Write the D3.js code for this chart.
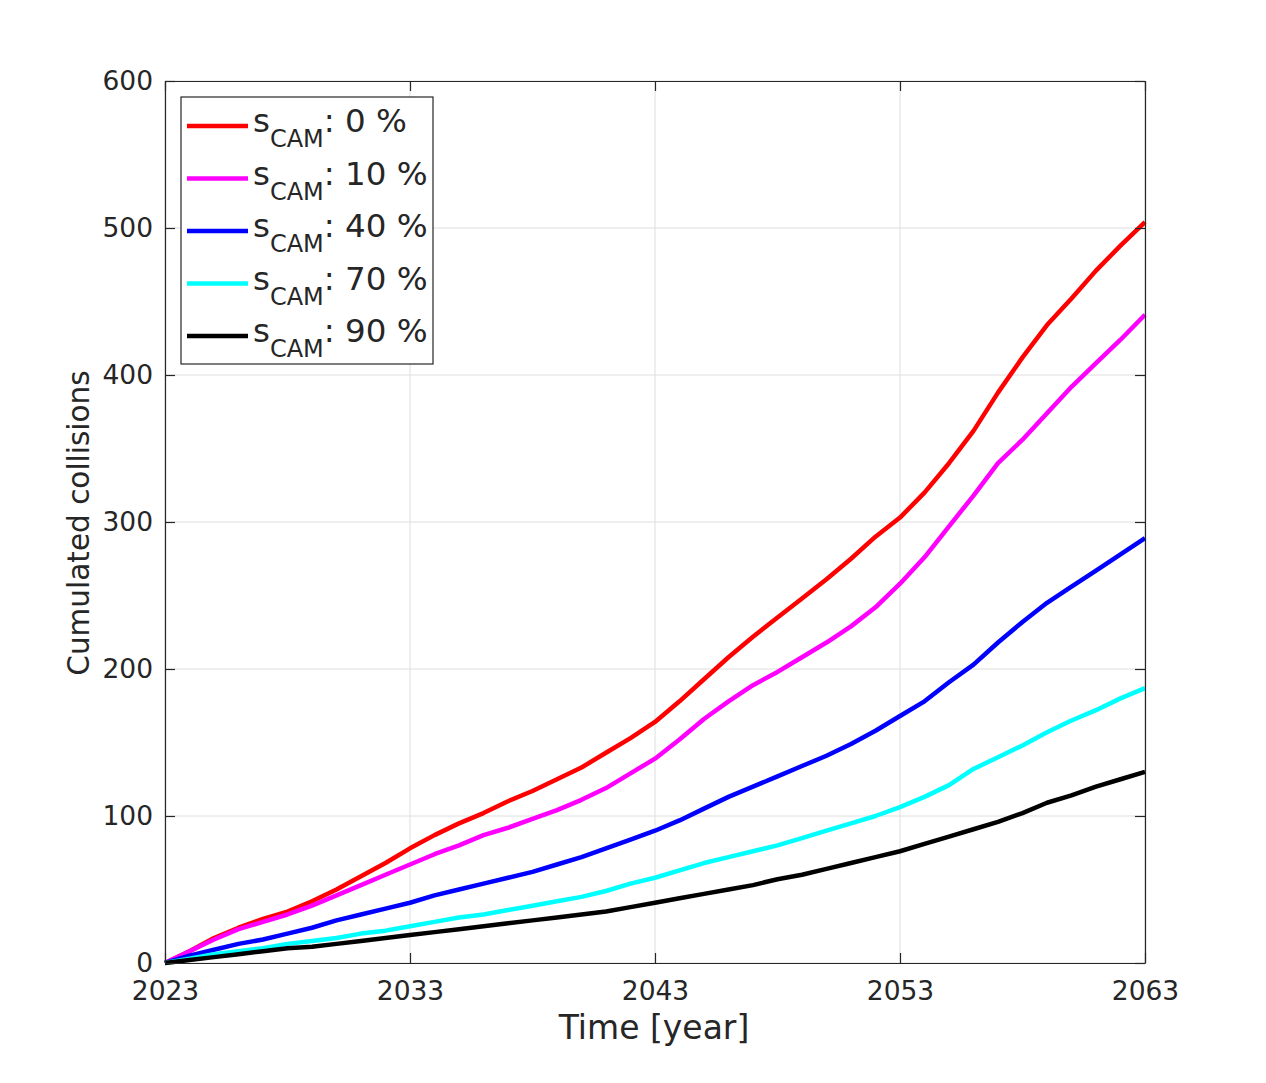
<!DOCTYPE html>
<html>
<head>
<meta charset="utf-8">
<script src="https://cdn.jsdelivr.net/npm/d3@7"></script>
<style>
  body { margin: 0; background: #fff; }
  text { font-family: "DejaVu Sans", sans-serif; fill: #262626; }
</style>
</head>
<body>
<svg id="chart" width="1266" height="1083"></svg>
<script>
// years along the x axis
var years = d3.range(2023, 2064);

// cumulated collisions per scenario (one value per year)
var cam0 = [0, 8, 17, 24, 30, 35, 42, 50, 59, 68, 78, 87, 95, 102, 110, 117, 125, 133, 143, 153,
  164, 178, 193, 208, 222, 235, 248, 261, 275, 290, 303, 320, 340, 362, 388, 412, 434, 452, 471, 488, 504];
var cam10 = [0, 8, 16, 23, 28, 33, 39, 46, 53, 60, 67, 74, 80, 87, 92, 98, 104, 111, 119, 129,
  139, 152, 166, 178, 189, 198, 208, 218, 229, 242, 258, 276, 297, 318, 340, 356, 374, 392, 408, 424, 441];
var cam40 = [0, 5, 9, 13, 16, 20, 24, 29, 33, 37, 41, 46, 50, 54, 58, 62, 67, 72, 78, 84,
  90, 97, 105, 113, 120, 127, 134, 141, 149, 158, 168, 178, 191, 203, 218, 232, 245, 256, 267, 278, 289];
var cam70 = [0, 3, 6, 8, 10, 13, 15, 17, 20, 22, 25, 28, 31, 33, 36, 39, 42, 45, 49, 54,
  58, 63, 68, 72, 76, 80, 85, 90, 95, 100, 106, 113, 121, 132, 140, 148, 157, 165, 172, 180, 187];
var cam90 = [0, 2, 4, 6, 8, 10, 11, 13, 15, 17, 19, 21, 23, 25, 27, 29, 31, 33, 35, 38,
  41, 44, 47, 50, 53, 57, 60, 64, 68, 72, 76, 81, 86, 91, 96, 102, 109, 114, 120, 125, 130];

var seriesNames = ["0 %", "10 %", "40 %", "70 %", "90 %"];
var seriesColors = ["#ff0000", "#ff00ff", "#0000ff", "#00ffff", "#000000"];
var seriesValues = [cam0, cam10, cam40, cam70, cam90];

var xTicks = [2023, 2033, 2043, 2053, 2063];
var yTicks = [0, 100, 200, 300, 400, 500, 600];

var svg = d3.select("#chart"),
    margin = {top: 81, right: 121, bottom: 120, left: 165},
    width = 1266 - margin.left - margin.right,
    height = 1083 - margin.top - margin.bottom,
    g = svg.append("g").attr("transform", "translate(" + margin.left + "," + margin.top + ")");

var x = d3.scaleLinear().domain([2023, 2063]).range([0, width]);
var y = d3.scaleLinear().domain([0, 600]).range([height, 0]);

// grid
g.append("g").selectAll("line").data(xTicks).enter().append("line")
    .attr("x1", d => x(d)).attr("x2", d => x(d))
    .attr("y1", 0).attr("y2", height)
    .attr("stroke", "#dedede").attr("stroke-width", 1);
g.append("g").selectAll("line").data(yTicks).enter().append("line")
    .attr("y1", d => y(d)).attr("y2", d => y(d))
    .attr("x1", 0).attr("x2", width)
    .attr("stroke", "#dedede").attr("stroke-width", 1);

// lines
var line = d3.line()
    .x(function(d, i) { return x(years[i]); })
    .y(function(d) { return y(d); });

g.selectAll("path.series").data(seriesValues).enter().append("path")
    .attr("class", "series")
    .attr("d", line)
    .attr("fill", "none")
    .attr("stroke", (d, i) => seriesColors[i])
    .attr("stroke-width", 4.5)
    .attr("stroke-linejoin", "round");

// axes (ticks inward, box all round)
function styleAxis(sel) {
    sel.select(".domain").attr("stroke", "#262626").attr("stroke-width", 1.2);
    sel.selectAll(".tick line").attr("stroke", "#262626").attr("stroke-width", 1.2);
    sel.selectAll(".tick text").style("font-size", "26.5px").attr("fill", "#262626");
}

g.append("g")
    .attr("transform", "translate(0," + height + ")")
    .call(d3.axisBottom(x).tickValues(xTicks).tickFormat(d3.format("d")).tickSizeInner(-10).tickSizeOuter(0).tickPadding(18))
    .call(styleAxis);
g.append("g")
    .call(d3.axisLeft(y).tickValues(yTicks).tickSizeInner(-10).tickSizeOuter(0).tickPadding(12))
    .call(styleAxis);
g.append("g")
    .call(d3.axisTop(x).tickValues(xTicks).tickFormat("").tickSizeInner(-10).tickSizeOuter(0))
    .call(styleAxis);
g.append("g")
    .attr("transform", "translate(" + width + ",0)")
    .call(d3.axisRight(y).tickValues(yTicks).tickFormat("").tickSizeInner(-10).tickSizeOuter(0))
    .call(styleAxis);

// axis labels
svg.append("text")
    .attr("x", margin.left + width / 2 - 1).attr("y", 1039)
    .attr("text-anchor", "middle")
    .style("font-size", "33px")
    .text("Time [year]");
svg.append("text")
    .attr("transform", "translate(89," + (margin.top + height / 2 + 1) + ") rotate(-90)")
    .attr("text-anchor", "middle")
    .style("font-size", "29.5px")
    .text("Cumulated collisions");

// legend
var legend = g.append("g").attr("transform", "translate(16,16)");
legend.append("rect")
    .attr("x", 0).attr("y", 0).attr("width", 252).attr("height", 267)
    .attr("fill", "#fff").attr("stroke", "#262626").attr("stroke-width", 1.2);

var item = legend.selectAll("g.item").data(seriesNames).enter().append("g")
    .attr("class", "item")
    .attr("transform", (d, i) => "translate(0," + (29 + i * 52.5) + ")");
item.append("line")
    .attr("x1", 6).attr("x2", 67).attr("y1", 0).attr("y2", 0)
    .attr("stroke", (d, i) => seriesColors[i]).attr("stroke-width", 4.5);
var label = item.append("text")
    .attr("x", 72).attr("y", 6)
    .style("font-size", "32.5px")
    .attr("fill", "#000");
label.append("tspan").text("s");
label.append("tspan").attr("dy", 15).style("font-size", "24px").text("CAM");
label.append("tspan").attr("dy", -15).text(d => ": " + d);
</script>
</body>
</html>
